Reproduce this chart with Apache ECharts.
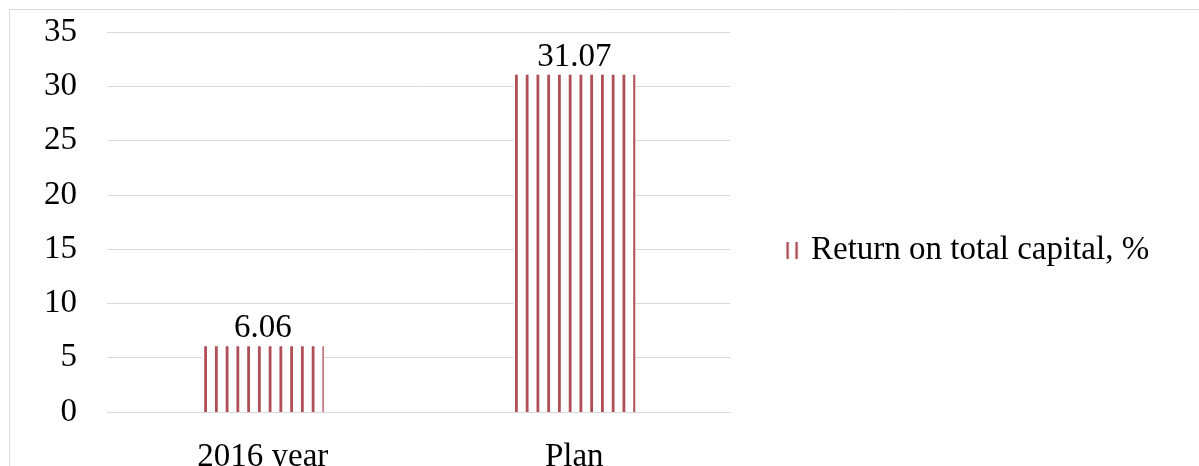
<!DOCTYPE html>
<html>
<head>
<meta charset="utf-8">
<script src="https://cdn.jsdelivr.net/npm/echarts@6/dist/echarts.min.js"></script>
<style>
html,body{margin:0;padding:0;background:#fff;}
#chart{width:1199px;height:466px;}
</style>
</head>
<body>
<div id="chart"></div>
<script>
const categories = ['2016 year', 'Plan'];
const seriesName = 'Return on total capital, %';
const values = [6.06, 31.07];
const yTicks = { min: 0, max: 35, interval: 5 };

const STRIPE = '#b04f55';
// vertical stripe pattern; phase chosen so a stripe sits on the bar's left edge
function stripeCanvas(phase) {
  const period = 10.75, tile = 43, w = 2.8;
  const c = document.createElement('canvas');
  c.width = tile; c.height = 4;
  const ctx = c.getContext('2d');
  ctx.fillStyle = '#ffffff';
  ctx.fillRect(0, 0, tile, 4);
  ctx.fillStyle = STRIPE;
  for (let k = 0; k < 4; k++) {
    const x = ((phase + period * k) % tile + tile) % tile;
    ctx.fillRect(x, 0, w, 4);
    if (x + w > tile) ctx.fillRect(x - tile, 0, w, 4);
  }
  return c;
}
function legendIcon() {
  const c = document.createElement('canvas');
  c.width = 14; c.height = 18;
  const ctx = c.getContext('2d');
  ctx.fillStyle = STRIPE;
  ctx.fillRect(1, 0, 2.6, 18);
  ctx.fillRect(10.5, 0, 2.6, 18);
  return c.toDataURL();
}

const chart = echarts.init(document.getElementById('chart'));
const font = '"Liberation Serif", "Times New Roman", serif';
const phases = [204.2 % 43, 515 % 43];
const data = values.map((v, i) => ({
  value: v,
  itemStyle: { color: { image: stripeCanvas(phases[i]), repeat: 'repeat' } }
}));

chart.setOption({
  animation: false,
  backgroundColor: '#fff',
  graphic: [{
    type: 'rect',
    shape: { x: 9.5, y: 9.5, width: 1400, height: 800 },
    style: { fill: 'none', stroke: '#d9d9d9', lineWidth: 1 },
    silent: true
  }],
  grid: { left: 107, right: 469, top: 32, bottom: 54, containLabel: false, outerBoundsMode: 'none' },
  legend: {
    data: [{ name: seriesName, icon: 'image://' + legendIcon() }],
    left: 780, top: 229,
    itemWidth: 14, itemHeight: 17, itemGap: 10,
    textStyle: { fontFamily: font, fontSize: 33, color: '#000', padding: [0, 0, 0, 7] }
  },
  xAxis: {
    type: 'category',
    data: categories,
    axisLine: { show: true, lineStyle: { color: '#d9d9d9', width: 1 } },
    axisTick: { show: false },
    axisLabel: { fontFamily: font, fontSize: 33, color: '#000', margin: 29 }
  },
  yAxis: {
    type: 'value',
    min: yTicks.min, max: yTicks.max, interval: yTicks.interval,
    axisLine: { show: false },
    axisTick: { show: false },
    splitLine: { lineStyle: { color: '#d9d9d9', width: 1 } },
    axisLabel: { fontFamily: font, fontSize: 33, color: '#000', margin: 30 }
  },
  series: [{
    name: seriesName,
    type: 'bar',
    data: data,
    barWidth: 122,
    label: {
      show: true, position: 'top', distance: 1,
      fontFamily: font, fontSize: 33, color: '#000',
      formatter: p => p.value.toFixed(2)
    }
  }]
});
</script>
</body>
</html>
